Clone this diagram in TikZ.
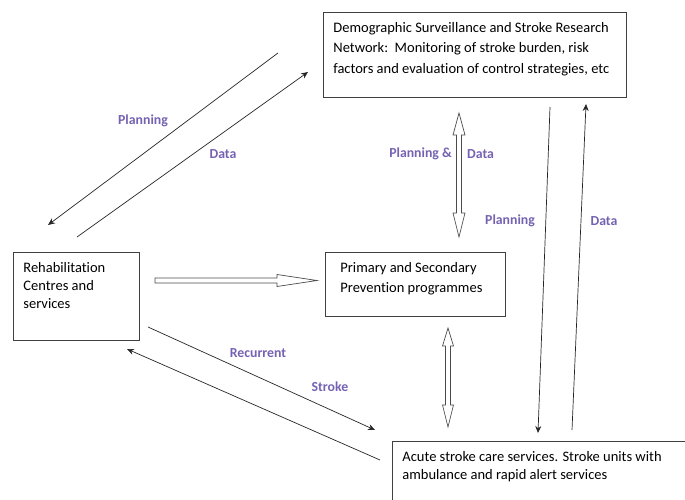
\documentclass[tikz,border=0pt]{standalone}
\usepackage{fontspec}
\setmainfont{Carlito}[Ligatures=NoCommon]
\usetikzlibrary{arrows.meta}
\definecolor{planpurple}{RGB}{118,98,178}
\tikzset{
  box/.style={draw=black!75, line width=0.8pt, anchor=north west, inner xsep=10pt, inner ysep=10pt},
  flowlabel/.style={text=planpurple, inner sep=0pt, font=\fontsize{13.8}{16}\selectfont\bfseries},
  flow/.style={draw=black!85, line width=0.7pt, -{Stealth[length=7pt,width=6pt]}},
  hollow/.style={draw=black!70, line width=0.7pt, fill=white, line join=miter}
}
\begin{document}
\begin{tikzpicture}[x=1pt,y=-1pt]
  \useasboundingbox (0,0) rectangle (685,500);
  \clip (0,0) rectangle (685,500);

  % boxes
  \node[box] (surv) at (323,12) {\parbox[t][65pt][t]{283pt}{\fontsize{14.5}{20.5}\selectfont Demographic Surveillance and Stroke Research\\ Network:\ \ Monitoring of stroke burden, risk\\ factors and evaluation of control strategies, etc}};
  \node[box] (rehab) at (13,252) {\parbox[t][68pt][t]{106pt}{\fontsize{14.5}{18}\selectfont Rehabilitation\\ Centres and\\ services}};
  \node[box, inner xsep=15pt] (prev) at (325,252) {\parbox[t][44pt][t]{150pt}{\fontsize{14.5}{20}\selectfont Primary and Secondary\\ Prevention programmes}};
  \node[box] (acute) at (392,441) {\parbox[t][60pt][t]{300pt}{\fontsize{14.5}{18}\selectfont Acute stroke care services. Stroke units with\\ ambulance and rapid alert services}};

  % arrow ends
  \coordinate (planA) at (278,53);
  \coordinate (planB) at (48,225);
  \coordinate (dataA) at (77,237);
  \coordinate (dataB) at (308,72);
  \coordinate (planC) at (550,107);
  \coordinate (planD) at (538,433);
  \coordinate (dataC) at (572,430);
  \coordinate (dataD) at (586,104);
  \coordinate (recA) at (148,327);
  \coordinate (recB) at (375,430);
  \coordinate (backA) at (380,460);
  \coordinate (backB) at (127,349);
  \coordinate (hA) at (155,280.5);
  \coordinate (pdA) at (459,113);
  \coordinate (paA) at (448,328);

  % thin arrows
  \draw[flow] (planA) -- (planB);
  \draw[flow] (dataA) -- (dataB);
  \draw[flow] (planC) -- (planD);
  \draw[flow] (dataC) -- (dataD);
  \draw[flow] (recA) -- (recB);
  \draw[flow] (backA) -- (backB);

  % hollow arrows
  \draw[hollow, shift={(hA)}] (0,-2.5) -- (122,-2.5) -- (122,-6) -- (162,0) -- (122,6) -- (122,2.5) -- (0,2.5) -- cycle;
  \draw[hollow, shift={(pdA)}, rotate=-90] (0,0) -- (22,-6) -- (22,-2.5) -- (100,-2.5) -- (100,-6) -- (124,0) -- (100,6) -- (100,2.5) -- (22,2.5) -- (22,6) -- cycle;
  \draw[hollow, shift={(paA)}, rotate=-90] (0,0) -- (18,-5.5) -- (18,-2.5) -- (77,-2.5) -- (77,-5.5) -- (99,0) -- (77,5.5) -- (77,2.5) -- (18,2.5) -- (18,5.5) -- cycle;

  % labels
  \node[flowlabel] (lplan1) at (143,121) {Planning};
  \node[flowlabel] (ldata1) at (223,154) {Data};
  \node[flowlabel, anchor=east] (lpd1) at (452,154) {Planning \&};
  \node[flowlabel, anchor=west] (lpd2) at (467,154) {Data};
  \node[flowlabel] (lplan2) at (510,221) {Planning};
  \node[flowlabel] (ldata2) at (604,221) {Data};
  \node[flowlabel] (lrec) at (258,353) {Recurrent};
  \node[flowlabel] (lstroke) at (330,387) {Stroke};
\end{tikzpicture}
\end{document}
